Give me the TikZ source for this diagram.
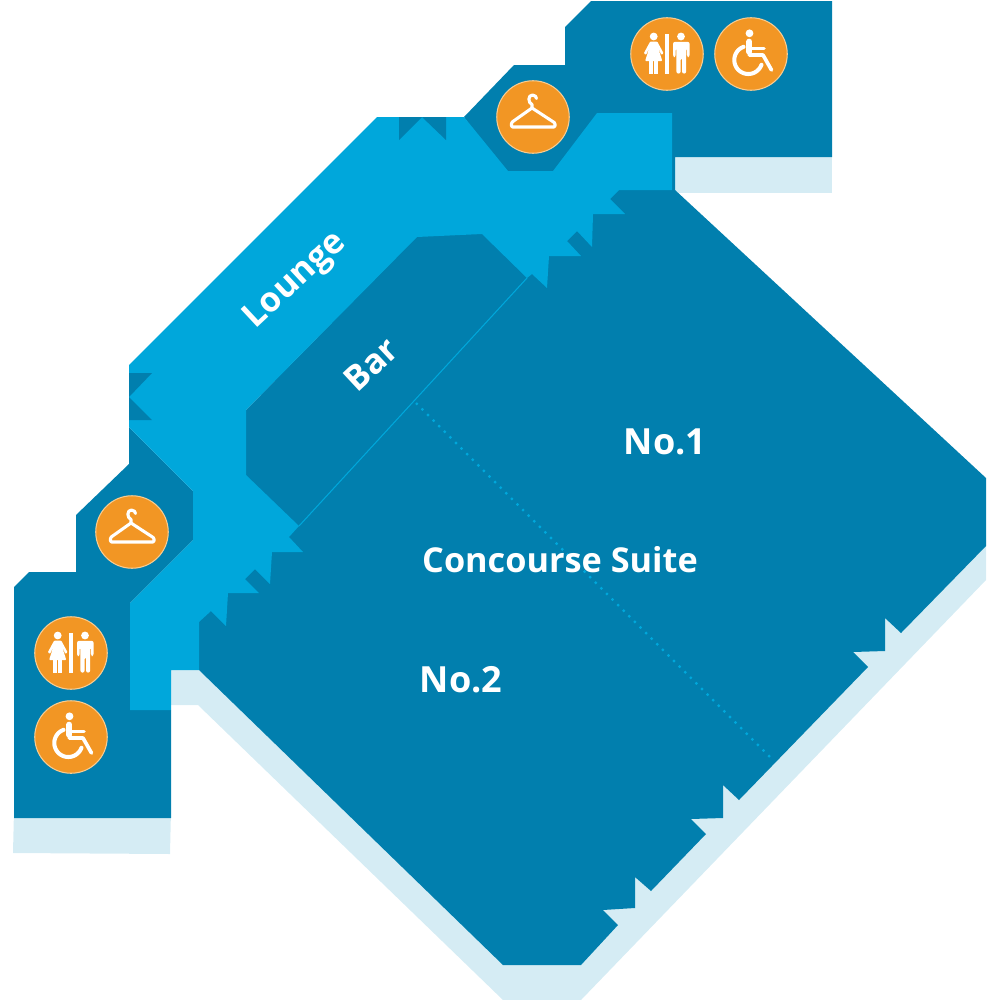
\documentclass[tikz,border=0pt]{standalone}
\usepackage{fontspec}
\setmainfont{Open Sans}
\usepackage{xcolor}
\definecolor{roomblue}{RGB}{1,127,174}
\definecolor{loungeblue}{RGB}{0,167,219}
\definecolor{shadowblue}{RGB}{213,236,244}
\definecolor{badgeorange}{RGB}{242,150,36}
\definecolor{badgering}{RGB}{249,204,145}

\tikzset{
  pics/hangericon/.style = {code = {
    \draw[iconline, rounded corners = 0.6pt] (-1,-9) -- (-21.5,5.5) -- (-21.5,10) -- (22,10) -- (22,6) -- cycle;
    \draw[iconline] (-1,-9) -- (-1,-12.5) .. controls (-5,-14) and (-5.5,-22) .. (-0.5,-22) .. controls (2,-22) and (3.5,-20) .. (3.5,-18.5);
  }},
  pics/toileticon/.style = {code = {
    \fill[white] (-13.3,-17.5) circle (3.9);
    \fill[white, rounded corners = 0.5pt] (-16.8,-12.5) -- (-9.8,-12.5) -- (-3.4,-0.7) -- (-5.6,1) -- (-9.3,-7.3) -- (-4.7,7) -- (-21.9,7) -- (-17.3,-7.3) -- (-21,1) -- (-23.2,-0.7) -- cycle;
    \fill[white] (-17.6,6) rectangle (-14,19.6);
    \fill[white] (-12.6,6) rectangle (-9,19.6);
    \fill[white] (-1.6,-20.5) rectangle (2.4,19.6);
    \fill[white] (14,-17.5) circle (3.9);
    \fill[white, rounded corners = 1.2pt] (6,-12.2) -- (22.6,-12.2) -- (22.6,3) -- (19.9,3) -- (19.9,-6) -- (19.2,-6) -- (19.2,19.6) -- (15,19.6) -- (15,4) -- (13.6,4) -- (13.6,19.6) -- (9.4,19.6) -- (9.4,-6) -- (8.7,-6) -- (8.7,3) -- (6,3) -- cycle;
  }},
  pics/wheelicon/.style = {code = {
    \fill[white] (-1.5,-20.7) circle (3.9);
    \draw[white, line width = 3.2pt, line cap = round] (-1.7,-12.5) -- (-1.7,-2);
    \draw[white, line width = 2pt, line cap = round] (-1.7,-5.7) -- (13,-5.7);
    \draw[white, line width = 2.1pt, line cap = round, line join = round] (-1.7,1) -- (12,1) -- (20.5,16);
    \draw[white, line width = 2.3pt, line cap = round] plot[domain = 20:250, samples = 40] ({-2.7+14*cos(\x)},{6+14*sin(\x)});
  }},
}

\begin{document}
\begin{tikzpicture}
  [
    x = 0.2mm, y = -0.2mm,
    shadow/.style = {fill = shadowblue},
    room/.style = {fill = roomblue},
    lounge/.style = {fill = loungeblue},
    badge/.style = {circle, fill = badgeorange, draw = badgering, line width = 0.6pt,
                   minimum size = 14.5mm, inner sep = 0pt},
    iconline/.style = {draw = white, line width = 1.75pt, line join = round, line cap = round},
    label/.style = {text = white, inner sep = 0pt, font = \fontsize{19.5}{24}\selectfont\bfseries},
    roomno/.style = {label, font = \fontsize{20.5}{24}\selectfont\bfseries},
    divider/.style = {draw = loungeblue, line width = 0.6pt},
  ]
  \useasboundingbox (0,0) rectangle (1000,1000);

  % shadows
  \fill[shadow] (14,810) -- (171,810) -- (170,854) -- (13,853) -- cycle;
  \fill[shadow] (675,150) -- (832,150) -- (832,193) -- (675,193) -- cycle;
  \fill[shadow] (171,670) -- (199,670) -- (986,540) -- (986,580) -- (581,1000) -- (503,1000) -- (198,705) -- (171,705) -- cycle;

  % rooms
  \fill[room] (199,670) -- (199,622) -- (246,410) -- (416,237) -- (619,190) -- (675,190) -- (986,478) -- (986,546) -- (901,633) -- (885,618) -- (885,651) -- (853,652) -- (868,667) -- (739,800) -- (723,785) -- (723,818) -- (691,819) -- (706,834) -- (651,891) -- (635,877) -- (635,908) -- (603,910) -- (618,925) -- (581,965) -- (503,965) -- cycle;
  \fill[room] (832,1) -- (591,1) -- (565,27) -- (565,65) -- (514,65) -- (464,117) -- (508,180) -- (553,180) -- (675,190) -- (675,157) -- (832,157) -- cycle;
  \fill[room] (14,587) -- (29,572) -- (76,572) -- (76,515) -- (129,464) -- (129,427) -- (193,491) -- (193,540) -- (130,603) -- (130,710) -- (171,710) -- (171,818) -- (14,818) -- cycle;

  % lounge
  \fill[lounge] (377,117) -- (464,117) -- (508,171) -- (553,171) -- (597,113) -- (672,113) -- (672,190) -- (619,190) -- (610,199) -- (625,214) -- (593,214) -- (592,247) -- (577,231) -- (567,241) -- (581,256) -- (549,256) -- (547,288) -- (532,274) -- (527,278) -- (482,234) -- (417,237) -- (246,410) -- (246,475) -- (299,526) -- (289,537) -- (303,552) -- (272,552) -- (270,584) -- (255,569) -- (245,579) -- (259,593) -- (228,593) -- (226,626) -- (211,611) -- (199,622) -- (199,670) -- (171,670) -- (171,710) -- (130,710) -- (130,603) -- (193,540) -- (193,491) -- (129,427) -- (129,365) -- cycle;
  \fill[room] (399,117) -- (399,140) -- (422,117) -- (446,140) -- (446,117) -- cycle;
  \fill[room] (129,373) -- (152,373) -- (129,397) -- (152,420) -- (129,420) -- cycle;

  % dividers
  \coordinate (bar_top) at (527,278);
  \coordinate (bar_bottom) at (299,526);
  \coordinate (wall_top) at (416,403);
  \coordinate (wall_bottom) at (771,758);
  \draw[divider] (bar_top) -- (bar_bottom);
  \draw[divider, line width = 1.3pt, dash pattern = on 1.3pt off 3.2pt] (wall_top) -- (wall_bottom);

  \node[label, rotate = 43] (lounge_text) at (296,281) {Lounge};
  \node[label, rotate = 43] (bar_text) at (371,364) {Bar};
  \node[roomno] (no_one) at (665,442) {No.1};
  \node[label] (suite) at (560,560) {Concourse Suite};
  \node[roomno] (no_two) at (461,680) {No.2};

  \node[badge] (hanger_top) at (533,117) {};
  \node[badge] (toilet_top) at (667,54) {};
  \node[badge] (wheel_top) at (751,54) {};
  \node[badge] (hanger_left) at (132,532) {};
  \node[badge] (toilet_left) at (71,653) {};
  \node[badge] (wheel_left) at (71,737) {};

  \pic at (hanger_top) {hangericon};
  \pic at (toilet_top) {toileticon};
  \pic at (wheel_top) {wheelicon};
  \pic at (hanger_left) {hangericon};
  \pic at (toilet_left) {toileticon};
  \pic at (wheel_left) {wheelicon};
\end{tikzpicture}
\end{document}
